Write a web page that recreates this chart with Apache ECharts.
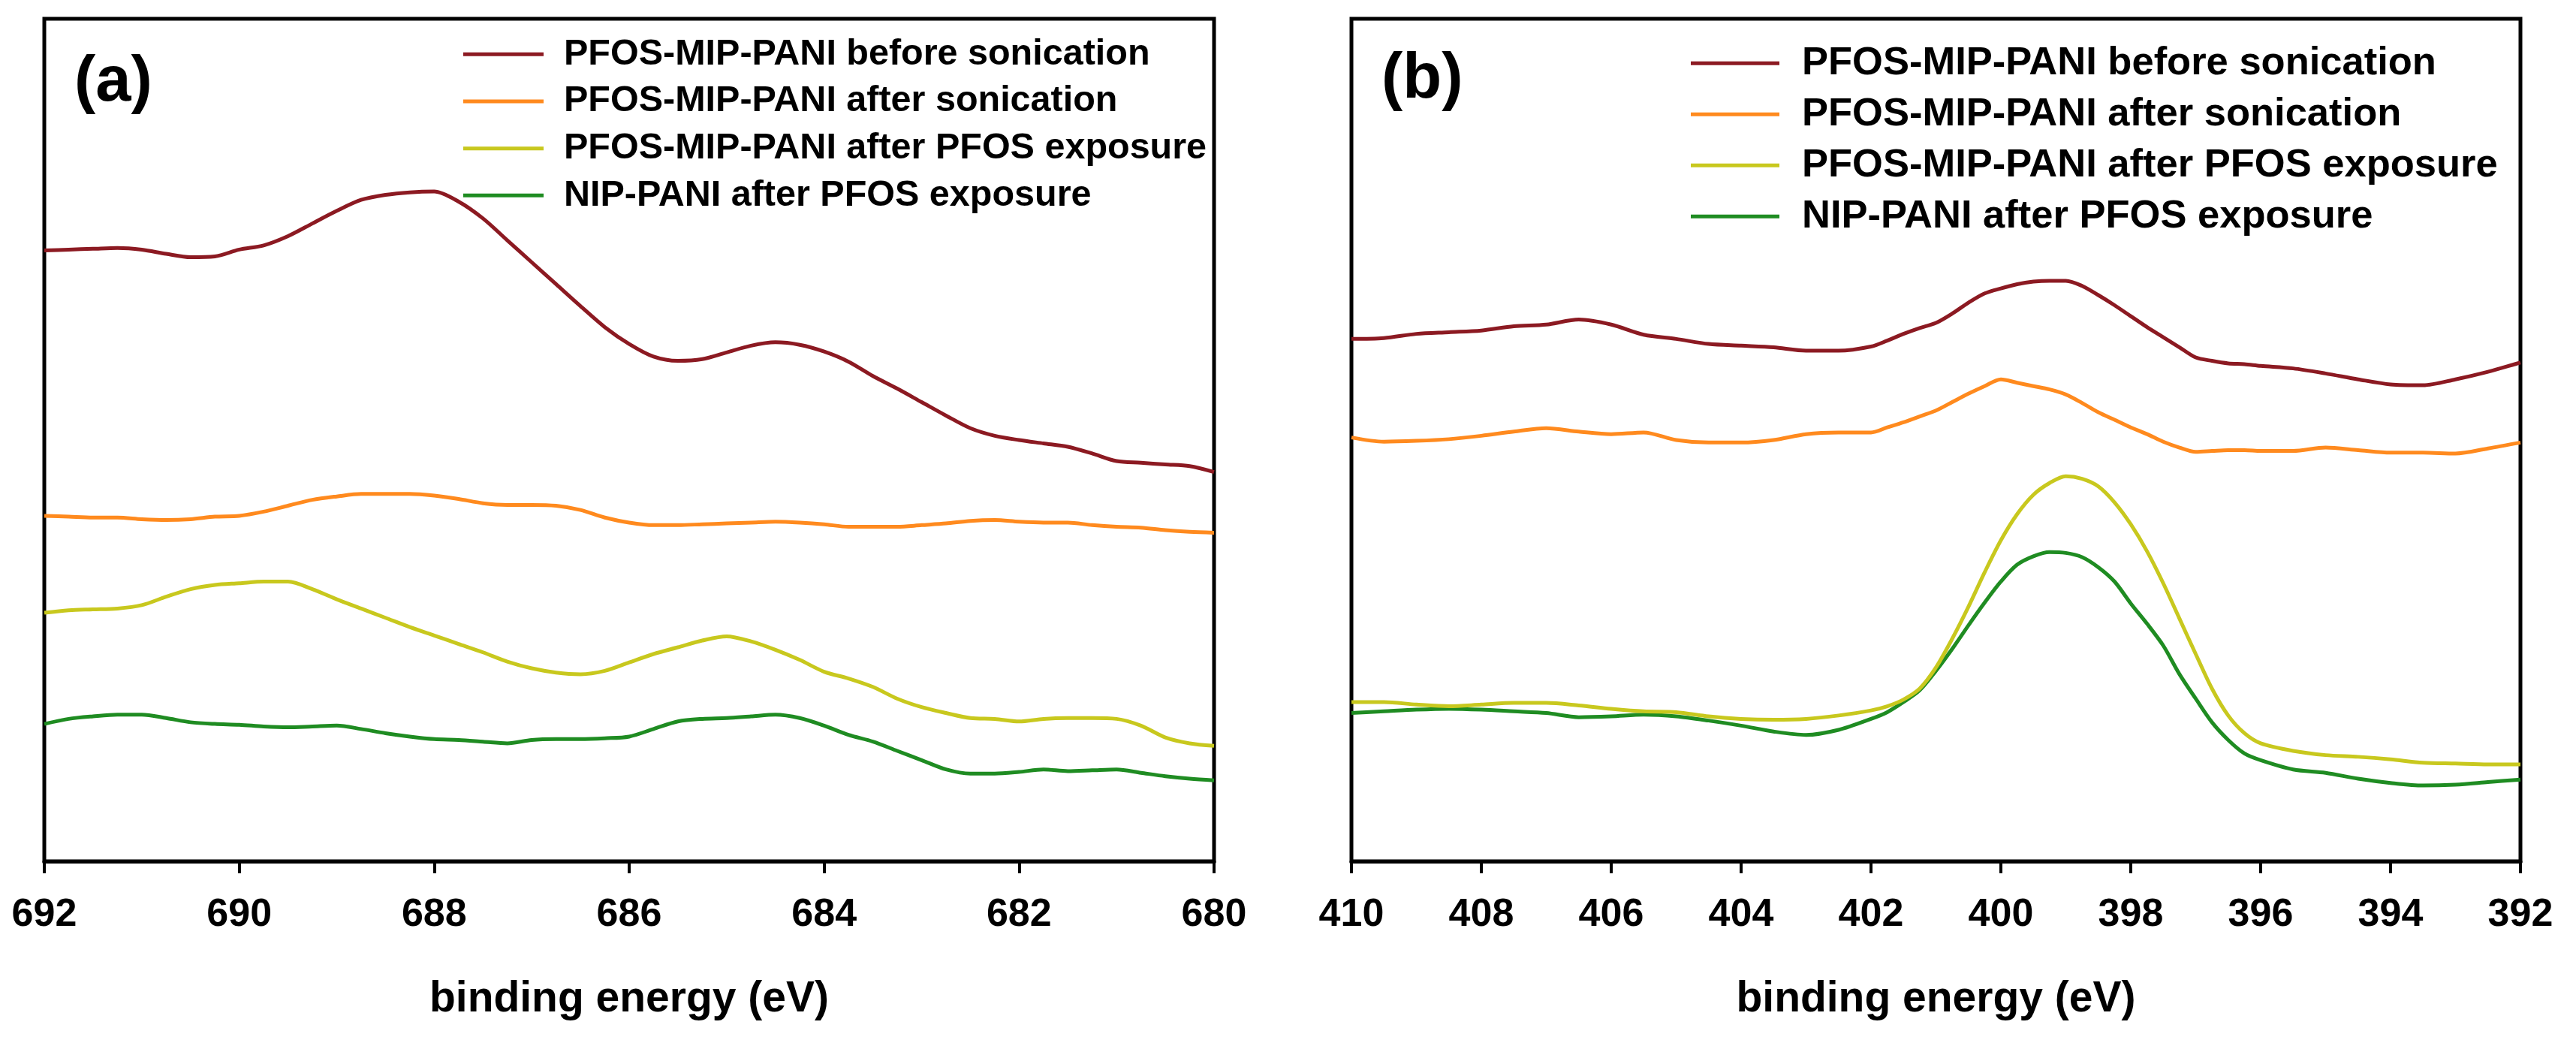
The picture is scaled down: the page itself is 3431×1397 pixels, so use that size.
<!DOCTYPE html>
<html>
<head>
<meta charset="utf-8">
<script src="https://cdn.jsdelivr.net/npm/echarts@6/dist/echarts.min.js"></script>
<style>
html,body{margin:0;padding:0;background:#fff;}
#chart{width:3431px;height:1397px;}
</style>
</head>
<body>
<div id="chart"></div>
<script>
// ---- Panel (a) ----
const energyA = [692,691.75,691.5,691.25,691,690.75,690.5,690.25,690,689.75,689.5,689.25,689,688.75,688.5,688.25,688,687.75,687.5,687.25,687,686.75,686.5,686.25,686,685.75,685.5,685.25,685,684.75,684.5,684.25,684,683.75,683.5,683.25,683,682.75,682.5,682.25,682,681.75,681.5,681.25,681,680.75,680.5,680.25,680];
const aBefore = [72.5,72.6,72.7,72.8,72.6,72.1,71.7,71.8,72.6,73.1,74.2,75.7,77.2,78.5,79.1,79.4,79.5,78.3,76.3,73.7,71.1,68.5,65.9,63.4,61.4,59.9,59.4,59.6,60.4,61.2,61.6,61.3,60.5,59.3,57.6,56.1,54.5,52.9,51.4,50.5,50.0,49.6,49.2,48.4,47.5,47.3,47.1,46.9,46.2];
const aAfter = [41.0,40.9,40.8,40.8,40.6,40.5,40.6,40.9,41.0,41.5,42.2,42.9,43.3,43.6,43.6,43.6,43.4,43.0,42.5,42.3,42.3,42.2,41.7,40.8,40.2,39.9,39.9,40.0,40.1,40.2,40.3,40.2,40.0,39.7,39.7,39.7,39.9,40.1,40.4,40.5,40.3,40.2,40.2,39.9,39.7,39.6,39.3,39.1,39.0];
const aPfos = [29.5,29.8,29.9,30.0,30.4,31.4,32.3,32.8,33.0,33.2,33.2,32.3,31.1,30.0,28.9,27.8,26.8,25.8,24.8,23.7,22.9,22.4,22.2,22.6,23.6,24.6,25.4,26.2,26.7,26.1,25.1,23.9,22.5,21.7,20.7,19.3,18.3,17.6,17.0,16.9,16.6,16.9,17.0,17.0,16.9,16.1,14.7,14.0,13.7];
const aNip = [16.3,16.9,17.2,17.4,17.4,17.0,16.5,16.3,16.2,16.0,15.9,16.0,16.1,15.7,15.2,14.8,14.5,14.4,14.2,14.0,14.4,14.5,14.5,14.6,14.8,15.7,16.6,16.9,17.0,17.2,17.4,17.0,16.1,15.0,14.2,13.1,12.0,10.9,10.4,10.4,10.6,10.9,10.7,10.8,10.9,10.5,10.1,9.8,9.6];

// ---- Panel (b) ----
const energyB = [410,409.5,409,408.5,408,407.5,407,406.5,406,405.5,405,404.5,404,403.5,403,402.5,
  402,401.75,401.5,401.25,401,400.75,400.5,400.25,400,399.75,399.5,399.25,399,398.75,398.5,398.25,398,397.75,397.5,397.25,397,396.75,396.5,396.25,396,
  395.5,395,394.5,394,393.5,393,392.5,392];
const bBefore = [62.0,62.1,62.6,62.8,63.0,63.5,63.7,64.3,63.7,62.5,62.0,61.4,61.2,61.0,60.6,60.6,
  61.1,61.8,62.6,63.3,63.9,65.0,66.3,67.4,68.0,68.5,68.8,68.9,68.9,68.3,67.2,66.0,64.7,63.4,62.2,61.0,59.8,59.4,59.1,59.0,58.8,
  58.5,57.9,57.2,56.6,56.5,57.2,58.1,59.2];
const bAfter = [50.3,49.8,49.9,50.1,50.5,51.0,51.4,51.0,50.7,50.9,50.0,49.7,49.7,50.0,50.7,50.9,
  50.9,51.5,52.1,52.8,53.5,54.5,55.5,56.4,57.2,56.8,56.4,56.0,55.4,54.4,53.3,52.4,51.5,50.7,49.8,49.1,48.6,48.7,48.8,48.8,48.7,
  48.7,49.1,48.8,48.5,48.5,48.4,49.0,49.7];
const bPfos = [18.9,18.9,18.6,18.4,18.6,18.8,18.8,18.5,18.1,17.8,17.7,17.2,16.9,16.8,16.9,17.3,
  17.9,18.4,19.2,20.5,23.0,26.4,30.2,34.3,38.1,41.2,43.5,44.9,45.7,45.4,44.5,42.6,40.0,36.8,33.0,28.8,24.6,20.5,17.3,15.2,14.0,
  13.1,12.6,12.4,12.1,11.7,11.6,11.5,11.5];
const bNip = [17.6,17.8,18.0,18.1,18.0,17.8,17.6,17.1,17.2,17.4,17.2,16.7,16.1,15.4,15.0,15.6,
  16.9,17.7,18.9,20.3,22.6,25.2,28.0,30.7,33.2,35.2,36.2,36.7,36.6,36.1,34.9,33.2,30.6,28.2,25.6,22.2,19.3,16.5,14.4,12.8,12.0,
  10.9,10.5,9.8,9.3,9.0,9.1,9.4,9.7];

const seriesNames = ['PFOS-MIP-PANI before sonication','PFOS-MIP-PANI after sonication','PFOS-MIP-PANI after PFOS exposure','NIP-PANI after PFOS exposure'];
const seriesColors = ['#8C1A22','#FF8A1E','#C8C81E','#1F8C22'];
const axisTitle = 'binding energy (eV)';
const panelLabels = ['(a)','(b)'];

const FONT = '"Liberation Sans", Arial, sans-serif';
const pair = (xs, ys) => xs.map((x, i) => [x, ys[i]]);

function makeSeries(xs, ysList, idx) {
  return ysList.map((ys, k) => ({
    name: seriesNames[k],
    type: 'line',
    xAxisIndex: idx, yAxisIndex: idx,
    data: pair(xs, ys),
    showSymbol: false, symbol: 'none',
    smooth: 0.3,
    lineStyle: { color: seriesColors[k], width: 5 },
    itemStyle: { color: seriesColors[k] },
    z: 10 - k
  }));
}

function xAxis(idx, min, max) {
  return {
    type: 'value', gridIndex: idx, inverse: true, min: min, max: max, interval: 2,
    name: axisTitle, nameLocation: 'middle', nameGap: 156,
    nameTextStyle: { fontFamily: FONT, fontWeight: 'bold', fontSize: 57, color: '#000' },
    axisLine: { show: true, onZero: false, lineStyle: { color: '#000', width: 5 } },
    axisTick: { show: true, inside: false, length: 16, lineStyle: { color: '#000', width: 4 } },
    axisLabel: { show: true, margin: 46, fontFamily: FONT, fontWeight: 'bold', fontSize: 52, color: '#000' },
    splitLine: { show: false }
  };
}
function yAxis(idx) {
  return {
    type: 'value', gridIndex: idx, min: 0, max: 100,
    axisLine: { show: false }, axisTick: { show: false }, axisLabel: { show: false }, splitLine: { show: false }
  };
}
function legend(left, top, rowStep, fontSize, lineW, textGap) {
  const lh = fontSize + 4;
  return {
    orient: 'vertical', left: left, top: top, padding: 0,
    itemWidth: lineW, itemHeight: 5, icon: 'rect',
    itemGap: rowStep - lh,
    selectedMode: false,
    data: seriesNames,
    textStyle: { fontFamily: FONT, fontWeight: 'bold', fontSize: fontSize, color: '#000', lineHeight: lh, padding: [0, 0, 0, textGap] }
  };
}

const chart = echarts.init(document.getElementById('chart'), null, { renderer: 'canvas' });
chart.setOption({
  backgroundColor: '#fff',
  animation: false,
  title: [
    { text: panelLabels[0], left: 99, top: 68, padding: 0, textStyle: { fontFamily: FONT, fontWeight: 'bold', fontSize: 85, color: '#000' } },
    { text: panelLabels[1], left: 1840, top: 64, padding: 0, textStyle: { fontFamily: FONT, fontWeight: 'bold', fontSize: 85, color: '#000' } }
  ],
  legend: [
    legend(617, 46, 62.7, 48.5, 107, 22),
    legend(2252, 56, 68, 52.5, 118, 25)
  ],
  grid: [
    { left: 59, top: 25, width: 1558, height: 1122, show: true, borderColor: '#000', borderWidth: 5, backgroundColor: 'transparent' },
    { left: 1800, top: 25, width: 1557, height: 1122, show: true, borderColor: '#000', borderWidth: 5, backgroundColor: 'transparent' }
  ],
  xAxis: [xAxis(0, 680, 692), xAxis(1, 392, 410)],
  yAxis: [yAxis(0), yAxis(1)],
  series: [].concat(
    makeSeries(energyA, [aBefore, aAfter, aPfos, aNip], 0),
    makeSeries(energyB, [bBefore, bAfter, bPfos, bNip], 1)
  )
});
</script>
</body>
</html>
